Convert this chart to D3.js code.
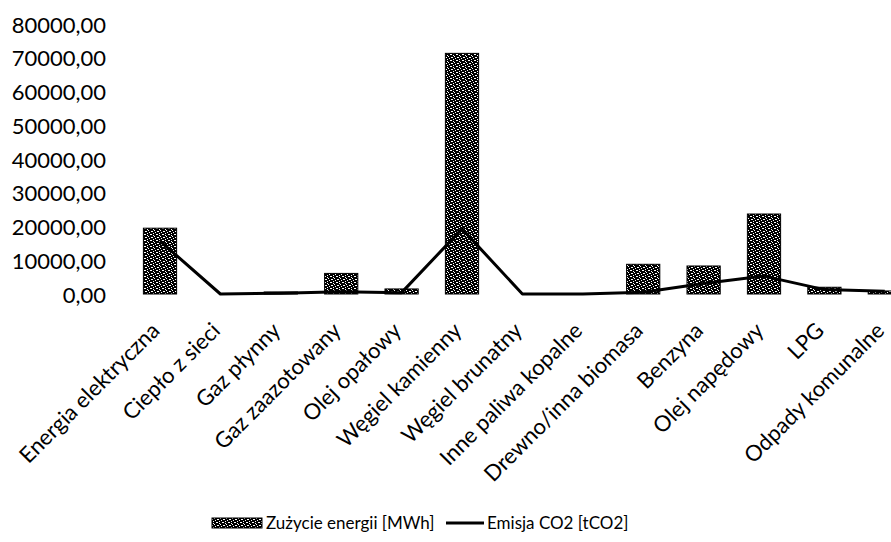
<!DOCTYPE html>
<html>
<head>
<meta charset="utf-8">
<script src="https://cdn.jsdelivr.net/npm/d3@7"></script>
<style>
  html, body { margin: 0; padding: 0; background: #fff; }
  svg { display: block; font-family: Lato, "Open Sans", sans-serif; }
</style>
</head>
<body>
<svg id="chart" width="891" height="542"></svg>
<script>
// Fuel / energy carrier categories
const categories = [
  "Energia elektryczna", "Ciepło z sieci", "Gaz płynny", "Gaz zaazotowany",
  "Olej opałowy", "Węgiel kamienny", "Węgiel brunatny", "Inne paliwa kopalne",
  "Drewno/inna biomasa", "Benzyna", "Olej napędowy", "LPG", "Odpady komunalne"
];
// Energy consumption [MWh]
const energyMWh = [19500, 0, 600, 6100, 1500, 71300, 0, 0, 8800, 8300, 23700, 2000, 900];
// CO2 emission [tCO2]
const emissionCO2 = [15700, 0, 200, 700, 400, 19300, 0, 0, 500, 3100, 5300, 1300, 800];
// Value axis ticks
const yTicks = [0, 10000, 20000, 30000, 40000, 50000, 60000, 70000, 80000];
// Legend entries
const legendLabels = ["Zużycie energii [MWh]", "Emisja CO2 [tCO2]"];

const svg = d3.select("#chart");

// Dense speckled texture used for the bars
const defs = svg.append("defs");
const pat = defs.append("pattern")
  .attr("id", "speckle")
  .attr("patternUnits", "userSpaceOnUse")
  .attr("width", 6).attr("height", 6);
pat.append("rect").attr("width", 6).attr("height", 6).attr("fill", "#000");
[[0,0],[1,0],[3,1],[4,2],[1,3],[2,3],[5,4],[3,5]].forEach(([x, y]) => {
  pat.append("rect").attr("x", x).attr("y", y).attr("width", 1).attr("height", 1).attr("fill", "#fff");
});

const x = d3.scalePoint()
  .domain(categories)
  .range([129.8, 915])
  .padding(0.5);
const step = x.step();
const barW = step * 0.55;

const y = d3.scaleLinear()
  .domain([0, 80000])
  .range([294, 24]);

const fmt = v => d3.format(".2f")(v).replace(".", ",");

// Y axis labels (no axis line or grid)
const yAxis = d3.axisLeft(y)
  .tickValues(yTicks)
  .tickFormat(fmt)
  .tickSize(0)
  .tickPadding(0);
const yg = svg.append("g")
  .attr("transform", "translate(106,1)")
  .call(yAxis);
yg.select(".domain").remove();
yg.selectAll("text")
  .attr("font-size", 22)
  .attr("font-family", "Lato, sans-serif")
  .attr("fill", "#000");

// Bars: energy consumption
svg.append("g")
  .selectAll("rect")
  .data(categories.map((c, i) => ({ c, v: energyMWh[i] })))
  .join("rect")
  .attr("x", d => x(d.c) - barW / 2)
  .attr("y", d => y(d.v))
  .attr("width", barW)
  .attr("height", d => y(0) - y(d.v))
  .attr("fill", "url(#speckle)")
  .attr("stroke", "#000")
  .attr("stroke-width", 1);

// Line: CO2 emission
const line = d3.line()
  .x(d => x(d.c))
  .y(d => y(d.v));
svg.append("path")
  .datum(categories.map((c, i) => ({ c, v: emissionCO2[i] })))
  .attr("d", line)
  .attr("fill", "none")
  .attr("stroke", "#000")
  .attr("stroke-width", 3)
  .attr("stroke-linejoin", "round");

// Category labels, rotated 45°
const xAxis = d3.axisBottom(x).tickSize(0).tickPadding(0);
const xg = svg.append("g").call(xAxis);
xg.select(".domain").remove();
xg.selectAll(".tick")
  .attr("transform", d => `translate(${x(d) + 1},332)`);
xg.selectAll("text")
  .attr("font-size", 22)
  .attr("font-family", "Lato, sans-serif")
  .attr("fill", "#000")
  .attr("text-anchor", "end")
  .attr("dy", 0)
  .attr("y", 0)
  .attr("transform", "rotate(-45)");

// Legend
const lg = svg.append("g").attr("font-family", "Lato, sans-serif").attr("font-size", 17);
lg.append("rect")
  .attr("x", 212).attr("y", 518).attr("width", 50).attr("height", 10)
  .attr("fill", "url(#speckle)").attr("stroke", "#000");
lg.append("text")
  .attr("x", 266).attr("y", 529)
  .attr("fill", "#000")
  .text(legendLabels[0]);
lg.append("line")
  .attr("x1", 446).attr("x2", 484).attr("y1", 523).attr("y2", 523)
  .attr("stroke", "#000").attr("stroke-width", 3);
lg.append("text")
  .attr("x", 487).attr("y", 529)
  .attr("fill", "#000")
  .text(legendLabels[1]);
</script>
</body>
</html>
